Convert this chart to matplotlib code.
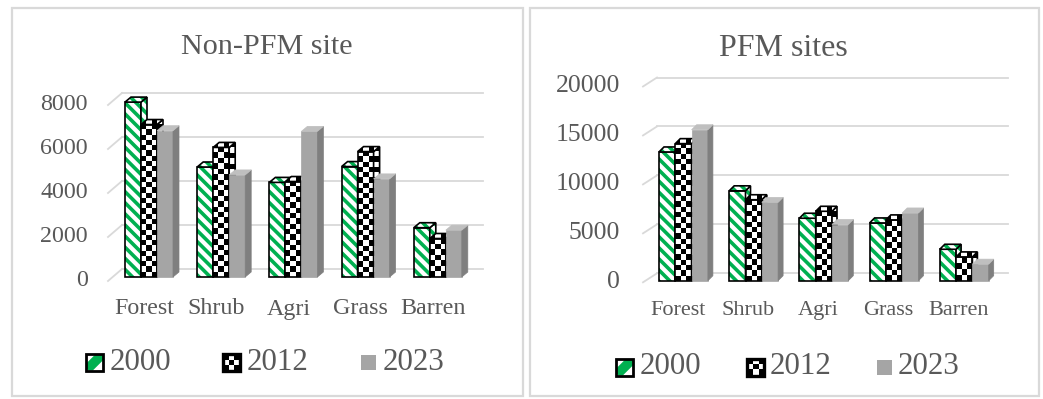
import numpy as np
import matplotlib
matplotlib.use('Agg')
import matplotlib.pyplot as plt
from matplotlib.patches import Polygon, Rectangle

plt.rcParams['font.family'] = ['Liberation Serif', 'DejaVu Serif']
plt.rcParams['hatch.linewidth'] = 2.6

# ---- data ----
categories = ['Forest', 'Shrub', 'Agri', 'Grass', 'Barren']
years = ['2000', '2012', '2023']

non_pfm_2000 = [7950, 5000, 4300, 5020, 2240]
non_pfm_2012 = [6930, 5890, 4340, 5700, 1750]
non_pfm_2023 = [6650, 4640, 6620, 4460, 2130]

pfm_2000 = [13150, 9180, 6380, 5900, 3210]
pfm_2012 = [14000, 8270, 7090, 6210, 2430]
pfm_2023 = [15420, 8000, 5740, 6920, 1690]

non_pfm_ticks = [0, 2000, 4000, 6000, 8000]
pfm_ticks = [0, 5000, 10000, 15000, 20000]

W, H, DPI = 1043, 399, 100
GREEN = '#00B050'
TEXT = '#595959'
GRID = '#D9D9D9'
GRAY_FRONT, GRAY_TOP, GRAY_SIDE = '#A5A5A5', '#BFBFBF', '#7F7F7F'
STRIPES = '\\\\\\'


def checker_fill(ax, patch, x0, x1, y0, y1, nx, ny, z):
    grid = np.add.outer(np.arange(ny), np.arange(nx)) % 2
    im = ax.imshow(grid, cmap='gray', vmin=0, vmax=1, extent=(x0, x1, y0, y1),
                   origin='lower', interpolation='nearest', aspect='auto', zorder=z)
    im.set_clip_path(patch)


def face(ax, pts, style, z, kind, ux, uy):
    if style == '2000':
        ax.add_patch(Polygon(pts, closed=True, facecolor='white', edgecolor=GREEN,
                             hatch=STRIPES, lw=0, zorder=z, clip_on=False))
        ax.add_patch(Polygon(pts, closed=True, fill=False, edgecolor='black',
                             lw=1.2, zorder=z + 0.5, clip_on=False))
    elif style == '2012':
        p = Polygon(pts, closed=True, facecolor='white', edgecolor='none', zorder=z, clip_on=False)
        ax.add_patch(p)
        xs = [q[0] for q in pts]
        ys = [q[1] for q in pts]
        nx = max(1, int(round((max(xs) - min(xs)) / ux / 5.3)))
        ny = max(1, int(round((max(ys) - min(ys)) / uy / 5.3)))
        checker_fill(ax, p, min(xs), max(xs), min(ys), max(ys), nx, ny, z + 0.2)
        ax.add_patch(Polygon(pts, closed=True, fill=False, edgecolor='black',
                             lw=1.2, zorder=z + 0.5, clip_on=False))
    else:
        col = GRAY_TOP if kind == 'top' else GRAY_SIDE
        ax.add_patch(Polygon(pts, closed=True, facecolor=col, edgecolor=col,
                             lw=0.5, zorder=z, clip_on=False))


def draw_panel(fig, series, ticks, g):
    n = len(categories)
    ymax = ticks[-1]
    ax = fig.add_axes([g['x0'] / W, 1 - g['y0'] / H,
                       (g['x1'] - g['x0']) / W, (g['y0'] - g['ytop']) / H])
    ax.axis('off')
    ux = n / (g['x1'] - g['x0'])          # data units per pixel
    uy = ymax / (g['y0'] - g['ytop'])
    gdx, gdy = g['grid_depth'][0] * ux, g['grid_depth'][1] * uy

    # gridlines with floor depth
    for v in ticks:
        ax.plot([0, gdx], [v, v + gdy], color=GRID, lw=1.3, clip_on=False, zorder=1)
        ax.plot([gdx, n + gdx], [v + gdy, v + gdy], color=GRID, lw=1.3, clip_on=False, zorder=1)
        ax.text(-g['lab_gap'] * ux, v, f'{v}', ha='right', va='center',
                fontsize=g['tick_fs'], color=TEXT)

    for i, c in enumerate(categories):
        ax.text(i + 0.5, -g['cat_dy'] * uy, c, ha='center', va='center',
                fontsize=g['cat_fs'], color=TEXT)

    bw = g['bar_w'] * ux
    start = g['bar_start'] * ux
    base = g['base'] * uy
    ddx, ddy = g['bar_depth'][0] * ux, g['bar_depth'][1] * uy
    x = np.arange(n) + start

    for j, (yr, vals) in enumerate(zip(years, series)):
        xs = x + j * bw
        for i in range(n):
            z = 2 + i * 20 + j * 5
            x0, x1 = xs[i], xs[i] + bw
            yb, yt = base, base + vals[i]
            if yr == '2000':
                ax.bar(x0, vals[i], width=bw, bottom=base, align='edge', color='white',
                       edgecolor=GREEN, hatch=STRIPES, lw=0, zorder=z, clip_on=False)
                ax.bar(x0, vals[i], width=bw, bottom=base, align='edge', fill=False,
                       edgecolor='black', lw=1.2, zorder=z + 0.5, clip_on=False)
            elif yr == '2012':
                b = ax.bar(x0, vals[i], width=bw, bottom=base, align='edge', color='white',
                           edgecolor='none', zorder=z, clip_on=False)[0]
                nx = max(1, int(round(g['bar_w'] / 5.3)))
                ny = max(1, int(round(vals[i] / uy / 5.3)))
                checker_fill(ax, b, x0, x1, yb, yt, nx, ny, z + 0.2)
                ax.bar(x0, vals[i], width=bw, bottom=base, align='edge', fill=False,
                       edgecolor='black', lw=1.2, zorder=z + 0.5, clip_on=False)
            else:
                ax.bar(x0, vals[i], width=bw, bottom=base, align='edge', color=GRAY_FRONT,
                       edgecolor=GRAY_FRONT, lw=0.5, zorder=z, clip_on=False)
            top = [(x0, yt), (x1, yt), (x1 + ddx, yt + ddy), (x0 + ddx, yt + ddy)]
            side = [(x1, yb), (x1 + ddx, yb + ddy), (x1 + ddx, yt + ddy), (x1, yt)]
            face(ax, side, yr, z + 1, 'side', ux, uy)
            face(ax, top, yr, z + 2, 'top', ux, uy)

    ax.set_xlim(0, n)
    ax.set_ylim(0, ymax)
    return ax


def legend(fig, entries, yc, fs):
    for kind, sx, tx, label in entries:
        s = 17 if kind != '2023' else 15
        lax = fig.add_axes([sx / W, 1 - (yc + s / 2) / H, s / W, s / H])
        lax.set_xlim(0, 1)
        lax.set_ylim(0, 1)
        lax.axis('off')
        if kind == '2000':
            lax.add_patch(Rectangle((0, 0), 1, 1, facecolor='white', edgecolor='none'))
            band = [(0.15, 0), (0.4, 0), (1, 0.6), (1, 0.85), (0.85, 1), (0.6, 1), (0, 0.4), (0, 0.15)]
            lax.add_patch(Polygon(band, closed=True, facecolor=GREEN, edgecolor='none'))
            lax.add_patch(Rectangle((0, 0), 1, 1, fill=False, edgecolor='black', lw=2.0,
                                    clip_on=False))
        elif kind == '2012':
            lax.imshow(np.add.outer(np.arange(3), np.arange(3)) % 2, cmap='gray',
                       extent=(0, 1, 0, 1), interpolation='nearest', aspect='auto')
            lax.add_patch(Rectangle((0, 0), 1, 1, fill=False, edgecolor='black', lw=2.4,
                                    clip_on=False))
            lax.set_xlim(0, 1)
            lax.set_ylim(0, 1)
        else:
            lax.add_patch(Rectangle((0, 0), 1, 1, facecolor=GRAY_FRONT, edgecolor='none'))
        fig.text(tx / W, 1 - yc / H, label, ha='left', va='center', fontsize=fs, color=TEXT)


fig = plt.figure(figsize=(W / DPI, H / DPI), dpi=DPI)

# panel frames
for bx0, bx1 in [(12, 523), (530, 1039)]:
    fig.add_artist(Rectangle((bx0 / W, 1 - 396 / H), (bx1 - bx0) / W, 388 / H,
                             transform=fig.transFigure, fill=False, edgecolor=GRID, lw=1.6))

left_geom = dict(x0=108, x1=469, y0=281, ytop=105, grid_depth=(14, 12), base=4,
                 bar_start=17, bar_w=16, bar_depth=(6, 5), lab_gap=20, cat_dy=28,
                 tick_fs=17.3, cat_fs=17.3)
right_geom = dict(x0=643, x1=994, y0=282.3, ytop=86.5, grid_depth=(14, 9), base=1.6,
                  bar_start=16, bar_w=16.3, bar_depth=(5, 5), lab_gap=23, cat_dy=28,
                  tick_fs=18.5, cat_fs=16)

draw_panel(fig, [non_pfm_2000, non_pfm_2012, non_pfm_2023], non_pfm_ticks, left_geom)
draw_panel(fig, [pfm_2000, pfm_2012, pfm_2023], pfm_ticks, right_geom)

fig.text(267 / W, 1 - 54 / H, 'Non-PFM site', ha='center', va='baseline', fontsize=21.7, color=TEXT)
fig.text(783 / W, 1 - 56 / H, 'PFM sites', ha='center', va='baseline', fontsize=23, color=TEXT)

legend(fig, [('2000', 86, 110, '2000'), ('2012', 223, 247, '2012'), ('2023', 361, 383, '2023')],
       362, 22.3)
legend(fig, [('2000', 616, 640, '2000'), ('2012', 747, 770, '2012'), ('2023', 877, 898, '2023')],
       367, 22.3)

fig.savefig('out.png', dpi=DPI)
